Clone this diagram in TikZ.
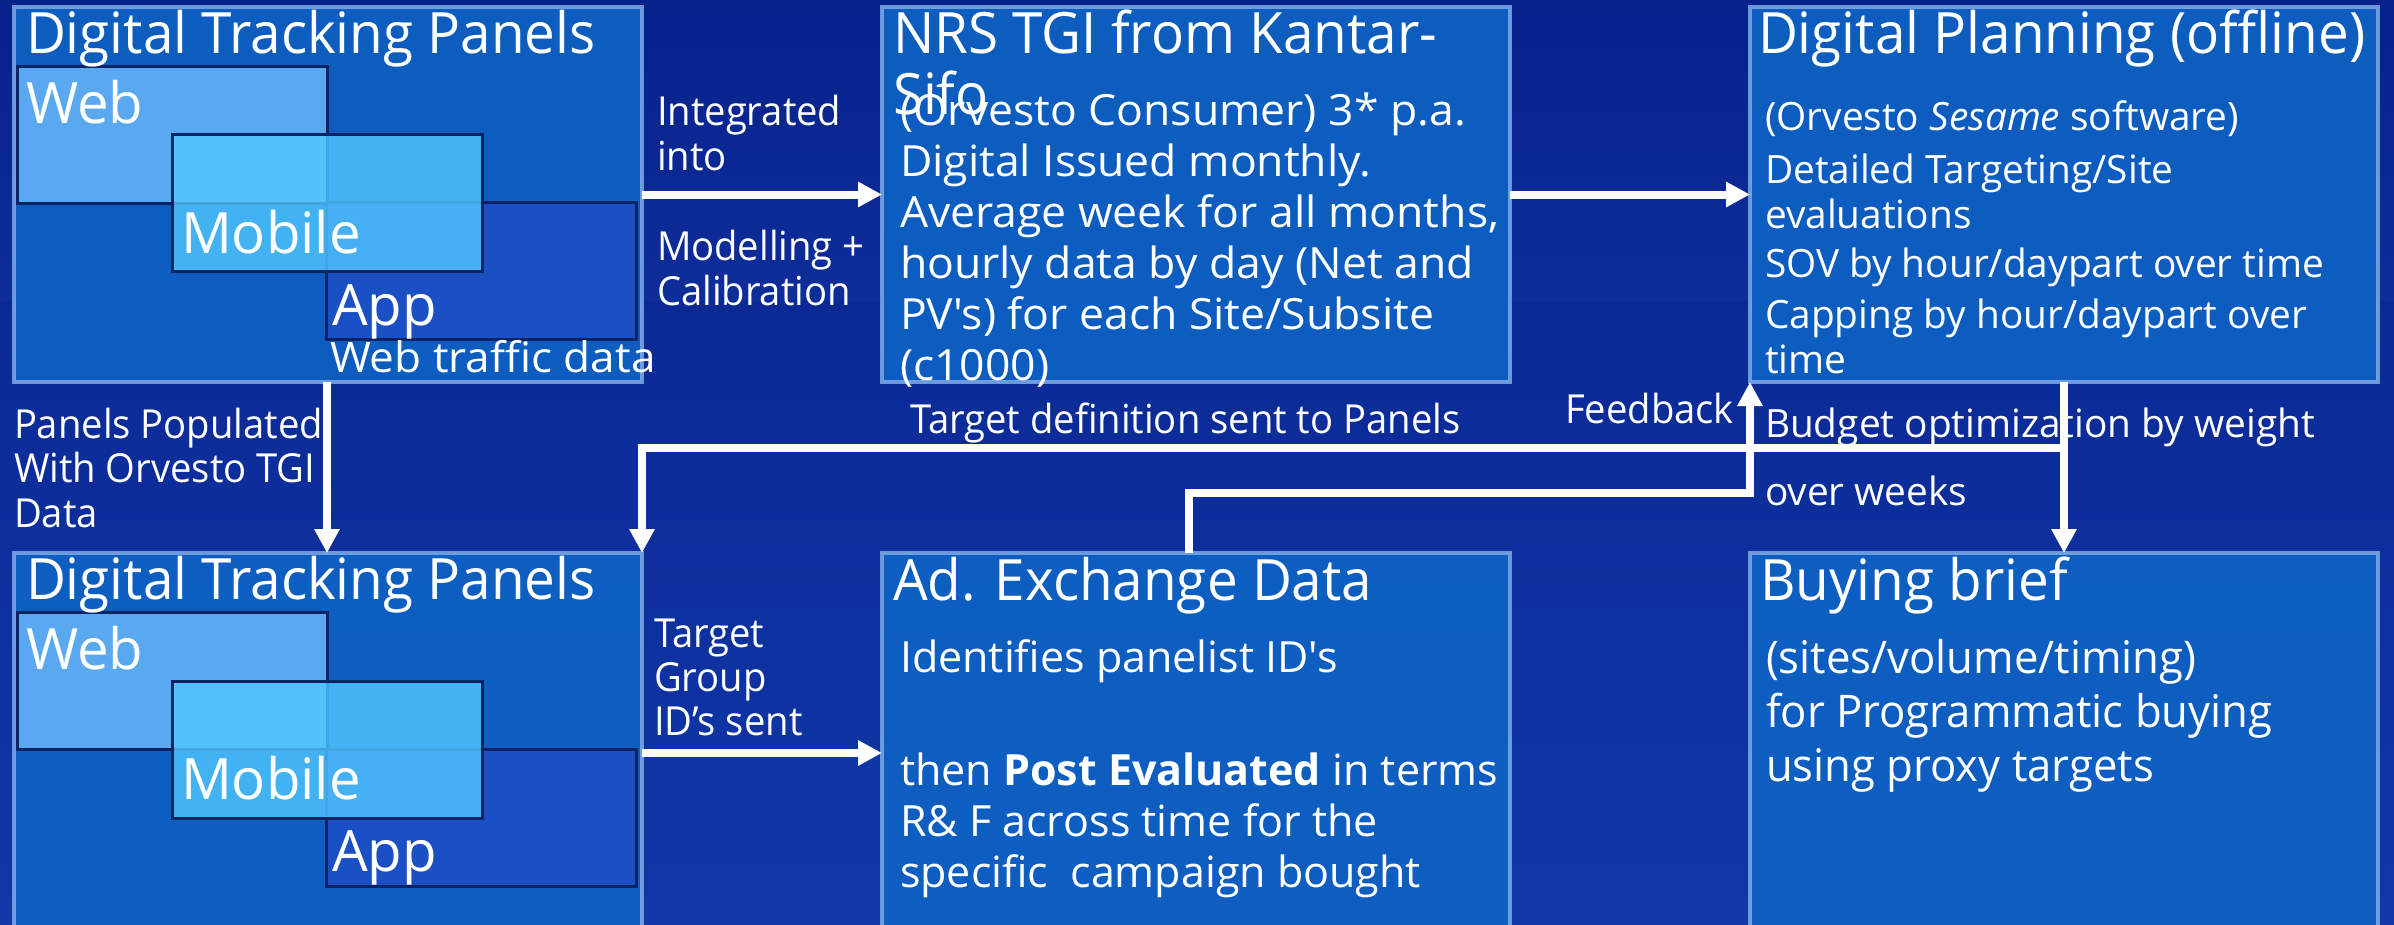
\documentclass[tikz,border=0pt]{standalone}
\usepackage{fontspec}
\setmainfont{Open Sans}[FakeStretch=1.0]
\newfontfamily\ftitle{Open Sans}[FakeStretch=0.962]
\newfontfamily\fsub{Open Sans}[FakeStretch=0.99]
\newfontfamily\fnrs{Open Sans}[FakeStretch=1.035]
\newfontfamily\fadx{Open Sans}[FakeStretch=1.0]
\newfontfamily\fdp{Open Sans}[FakeStretch=0.995]
\newfontfamily\fbuy{Open Sans}[FakeStretch=0.97]
\newfontfamily\flab{Open Sans}[FakeStretch=0.955]
\newfontfamily\fweb{Open Sans}[FakeStretch=1.05]
\usetikzlibrary{arrows.meta}
\definecolor{bgtop}{RGB}{8,34,140}
\definecolor{bgmid}{RGB}{26,70,184}
\definecolor{bgbot}{RGB}{16,56,168}
\definecolor{boxfill}{RGB}{14,98,196}
\definecolor{boxline}{RGB}{125,170,230}
\definecolor{webfill}{RGB}{90,168,240}
\definecolor{mobfill}{RGB}{80,200,255}
\definecolor{appfill}{RGB}{26,80,196}
\definecolor{subline}{RGB}{10,35,100}
\newcommand{\tl}[4]{{#1\fontsize{#2}{#3}\selectfont\begin{tabular}[t]{@{}l@{}}#4\end{tabular}}}
\tikzset{
  panel/.style={draw=boxline, line width=4pt, fill=boxfill, fill opacity=0.92, draw opacity=0.85,
    inner sep=0pt, outer sep=0pt, anchor=north west, minimum width=628pt},
  subbox/.style={draw=subline, line width=3pt, inner sep=0pt, outer sep=0pt, anchor=north west,
    minimum width=310pt, minimum height=137pt},
  txt/.style={anchor=base west, inner sep=0pt, outer sep=0pt, text=white},
  conn/.style={draw=white, line width=8pt, -{Triangle[length=24pt,width=24pt]}},
}
\begin{document}
\begin{tikzpicture}[x=1pt,y=-1pt]
\useasboundingbox (0,0) rectangle (2394,924);
\clip (0,0) rectangle (2394,924);
% background
\shade[top color=bgtop, middle color=bgmid, bottom color=bgbot] (0,0) rectangle (2394,924);
\shade[top color=bgtop, bottom color=bgtop!60!bgmid, opacity=0.6] (0,0) rectangle (2394,300);

% panels
\node[panel, minimum height=375pt] (dtp1) at (14,7) {};
\node[panel, minimum height=375pt] (nrs) at (882,7) {};
\node[panel, minimum height=375pt] (dp) at (1750,7) {};
\node[panel, minimum height=400pt] (dtp2) at (14,553) {};
\node[panel, minimum height=400pt] (adx) at (882,553) {};
\node[panel, minimum height=400pt] (buy) at (1750,553) {};

% sub boxes, top
\node[subbox, fill=webfill] (web1) at (17,66) {};
\node[subbox, fill=appfill] (app1) at (326,202) {};
\node[subbox, fill=mobfill, fill opacity=0.8] (mob1) at (172,134) {};
% sub boxes, bottom
\node[subbox, fill=webfill] (web2) at (17,612) {};
\node[subbox, fill=appfill] (app2) at (326,749) {};
\node[subbox, fill=mobfill, fill opacity=0.8] (mob2) at (172,681) {};

% titles
\node[txt] (t1) at (26,53) {\tl{\ftitle}{57}{60}{Digital Tracking Panels}};
\node[txt] (t2) at (893,53) {\tl{\ftitle}{57}{60}{NRS TGI from Kantar-\\Sifo}};
\node[txt] (t3) at (1758,53) {\tl{\ftitle}{57}{60}{Digital Planning (offline)}};
\node[txt] (t4) at (26,599) {\tl{\ftitle}{57}{60}{Digital Tracking Panels}};
\node[txt] (t5) at (893,600) {\tl{\ftitle}{57}{60}{Ad. Exchange Data}};
\node[txt] (t6) at (1760,600) {\tl{\ftitle}{57}{60}{Buying brief}};

% sub box labels
\node[txt] (lw1) at (26,123) {\tl{\fsub}{57}{60}{Web}};
\node[txt] (lm1) at (181,253) {\tl{\fsub}{57}{60}{Mobile}};
\node[txt] (la1) at (332,325) {\tl{\fsub}{57}{60}{App}};
\node[txt] (lwt) at (330,372) {\tl{\fweb}{42}{50}{Web traffic data}};
\node[txt] (lw2) at (26,669) {\tl{\fsub}{57}{60}{Web}};
\node[txt] (lm2) at (181,799) {\tl{\fsub}{57}{60}{Mobile}};
\node[txt] (la2) at (332,871) {\tl{\fsub}{57}{60}{App}};

% body texts
\node[txt] (b2) at (900,125) {\tl{\fnrs}{43}{51}{(Orvesto Consumer) 3* p.a.\\Digital Issued monthly.\\Average week for all months,\\hourly data by day (Net and\\PV's) for each Site/Subsite\\(c1000)}};
\node[txt] (b3a) at (1765,130) {\tl{\fdp}{39}{46}{(Orvesto \textit{Sesame} software)}};
\node[txt] (b3b) at (1765,183) {\tl{\fdp}{39}{45}{Detailed Targeting/Site\\evaluations}};
\node[txt] (b3c) at (1765,277) {\tl{\fdp}{39}{46}{SOV by hour/daypart over time}};
\node[txt] (b3d) at (1765,328) {\tl{\fdp}{39}{45}{Capping by hour/daypart over\\time}};
\node[txt] (b5a) at (900,672) {\tl{\fadx}{43}{51}{Identifies panelist ID's}};
\node[txt] (b5b) at (900,785) {\tl{\fadx}{43}{51}{then \textbf{Post Evaluated} in terms\\R\& F across time for the\\specific\ \ campaign bought}};
\node[txt] (b6) at (1766,673) {\tl{\fbuy}{45}{54}{(sites/volume/timing)\\for Programmatic buying\\using proxy targets}};

% connector labels
\node[txt] (l1) at (657,125) {\tl{\flab}{40}{45}{Integrated\\into}};
\node[txt] (l2) at (657,260) {\tl{\flab}{40}{45}{Modelling +\\Calibration}};
\node[txt] (l3) at (14,438) {\tl{\flab}{40}{44.5}{Panels Populated\\With Orvesto TGI\\Data}};
\node[txt] (l4) at (654,647) {\tl{\flab}{40}{44}{Target\\Group\\ID’s sent}};
\node[txt] (l5) at (910,433) {\tl{\flab}{40}{45}{Target definition sent to Panels}};
\node[txt] (l6) at (1565,423) {\tl{\flab}{40}{45}{Feedback}};
\node[txt] (l7) at (1765,437) {\tl{\fdp}{39}{45}{Budget optimization by weight}};
\node[txt] (l8) at (1765,505) {\tl{\fdp}{39}{45}{over weeks}};

% connectors
\coordinate (split) at (2064,448);
\coordinate (fbk) at (1189,493);
\draw[conn] (dtp1.east) -- (nrs.west);
\draw[conn] (nrs.east) -- (dp.west);
\draw[conn] (web1.east |- dtp1.south) -- (web1.east |- dtp2.north);
\draw[conn] (dtp2.east) -- (adx.west);
\draw[conn] (dp.south) -- (buy.north);
\draw[conn] (split) -| (dtp2.north east);
\draw[conn] (fbk |- adx.north) -- (fbk) -| (dp.south west);
\end{tikzpicture}
\end{document}
